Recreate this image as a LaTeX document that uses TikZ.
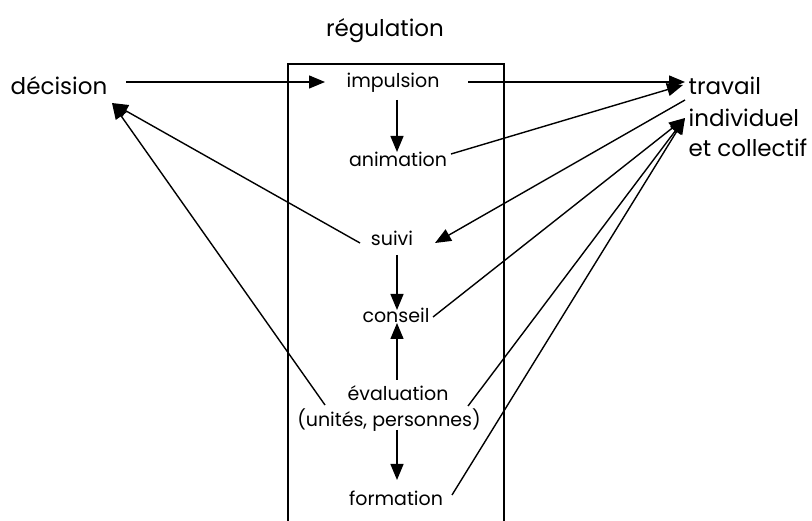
\documentclass[tikz,border=0pt]{standalone}
\usepackage{fontspec}
\setmainfont{Poppins}
\usetikzlibrary{arrows.meta}

\begin{document}
\begin{tikzpicture}[x=1pt,y=-1pt,>={Triangle[length=16pt,width=13pt]},line width=1.4pt,
  lbl/.style={font=\fontsize{19}{23}\selectfont,inner sep=0pt,anchor=base},
  big/.style={font=\fontsize{23}{27}\selectfont,inner sep=0pt,anchor=base west}]
\useasboundingbox (0,0) rectangle (812,521);
% the box round the regulation
\draw (288,521)--(288,64)--(504,64)--(504,521);
\node[big,anchor=base] (regulation) at (385,37) {régulation};
\node[big,anchor=base] (decision) at (59,95) {décision};
\node[lbl] (impulsion) at (393,88) {impulsion};
\node[lbl] (animation) at (398,167) {animation};
\node[lbl] (suivi) at (392,246) {suivi};
\node[lbl] (conseil) at (396,323) {conseil};
\node[lbl] (evaluation) at (398,401) {évaluation};
\node[lbl] (unites) at (389,427) {(unités, personnes)};
\node[lbl] (formation) at (396,505) {formation};
\node[big] (travail) at (688,95) {travail};
\node[big] (individuel) at (688,127) {individuel};
\node[big] (collectif) at (688,157) {et collectif};
% top row
\draw[->] ([shift={(67,-13)}]decision.base)--([shift={(-68,-6)}]impulsion.base);
\draw[->] ([shift={(75,-6)}]impulsion.base)--([shift={(-3,-13)}]travail.base west);
\draw[->] ([shift={(4,12)}]impulsion.base)--([shift={(-1,-15)}]animation.base);
\draw[->] ([shift={(53,-13)}]animation.base)--([shift={(-5,-10)}]travail.base west);
\draw[->] ([shift={(-3,5)}]travail.base west)--([shift={(43,-3)}]suivi.base);
% back to decision
\draw[->] ([shift={(-32,-3)}]suivi.base)--([shift={(53,8)}]decision.base);
\draw[->] ([shift={(-73,4)}]evaluation.base)--([shift={(53,8)}]decision.base);
% middle column
\draw[->] ([shift={(5,9)}]suivi.base)--([shift={(1,-13)}]conseil.base);
\draw[->] ([shift={(-1,-21)}]evaluation.base)--([shift={(1,0)}]conseil.base);
\draw[->] ([shift={(8,3)}]unites.base)--([shift={(1,-25)}]formation.base);
% to travail individuel
\draw[->] ([shift={(37,-6)}]conseil.base)--([shift={(-3,-9)}]individuel.base west);
\draw[->] ([shift={(70,5)}]evaluation.base)--([shift={(-3,-9)}]individuel.base west);
\draw[->] ([shift={(56,-10)}]formation.base)--([shift={(-3,-9)}]individuel.base west);
\end{tikzpicture}
\end{document}
